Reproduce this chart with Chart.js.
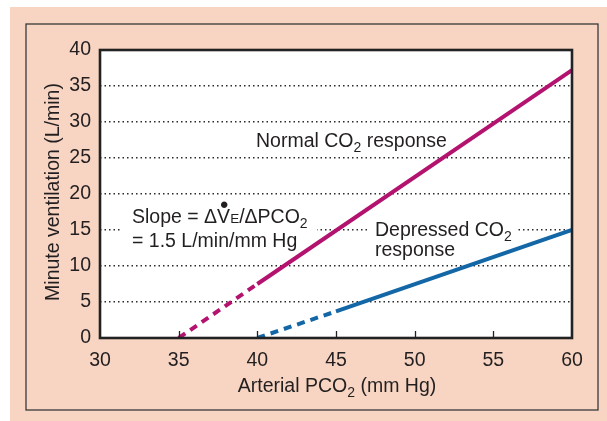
<!DOCTYPE html>
<html><head><meta charset="utf-8">
<script src="https://cdn.jsdelivr.net/npm/chart.js@4/dist/chart.umd.min.js"></script>
<style>html,body{margin:0;padding:0;background:#fff;}#wrap{width:607px;height:421px;position:relative;}</style>
</head><body><div id="wrap"><canvas id="c"></canvas></div>
<script>
const xTicks = [30, 35, 40, 45, 50, 55, 60];
const yTicks = [0, 5, 10, 15, 20, 25, 30, 35, 40];
const pco2Normal = [35, 40, 60];
const veNormal = [0, 7.5, 37.2];
const pco2Depressed = [40, 45, 60];
const veDepressed = [0, 3.7, 15];
const seriesNames = ['Normal CO2 response', 'Depressed CO2 response'];

const FAM = '"Liberation Sans", Arial, Helvetica, sans-serif';
const TEXT = '#231f20';
const PEACH = '#f7d5c2';
const MAGENTA = '#b3136f';
const BLUE = '#1367a6';

function drawParts(ctx, parts, x, y, align) {
  const widths = parts.map(p => { ctx.font = p[1] + 'px ' + FAM; return ctx.measureText(p[0]).width; });
  const total = widths.reduce((a, b) => a + b, 0);
  let cx = align === 'center' ? x - total / 2 : x;
  const starts = [];
  ctx.textAlign = 'left'; ctx.textBaseline = 'alphabetic';
  parts.forEach((p, i) => {
    ctx.font = p[1] + 'px ' + FAM;
    starts.push(cx);
    ctx.fillText(p[0], cx, y + (p[2] || 0));
    cx += widths[i];
  });
  return { starts, widths };
}

const decor = {
  id: 'decor',
  beforeDraw(chart) {
    const ctx = chart.ctx, a = chart.chartArea;
    ctx.save();
    ctx.fillStyle = '#fff'; ctx.fillRect(0, 0, 607, 421);
    ctx.fillStyle = PEACH; ctx.fillRect(10, 7, 597, 414);
    ctx.strokeStyle = '#3a3a3a'; ctx.lineWidth = 1.3; ctx.strokeRect(26, 24, 572, 386);
    ctx.fillStyle = '#fff'; ctx.fillRect(a.left, a.top, a.right - a.left, a.bottom - a.top);
    ctx.restore();
  },
  beforeDatasetsDraw(chart) {
    const ctx = chart.ctx;
    ctx.save();
    ctx.fillStyle = '#fff';
    ctx.fillRect(120, 200, 197, 52);
    ctx.fillRect(368, 215, 150, 47);
    ctx.fillStyle = TEXT;
    // Slope annotation
    const r = drawParts(ctx, [['Slope = \u0394', 19.5], ['V', 19.5], ['E', 13.5], ['/\u0394PCO', 19.5], ['2', 14, 5]], 132, 223, 'left');
    ctx.font = '24px ' + FAM; ctx.textAlign = 'center';
    ctx.fillText('\u2022', r.starts[1] + r.widths[1] / 2 + 0.5, 213);
    drawParts(ctx, [['= 1.5 L/min/mm Hg', 19.5]], 132, 247, 'left');
    // Normal
    drawParts(ctx, [['Normal CO', 19.5], ['2', 14, 5], [' response', 19.5]], 256, 147, 'left');
    // Depressed
    drawParts(ctx, [['Depressed CO', 19.5], ['2', 14, 5]], 375, 236, 'left');
    drawParts(ctx, [['response', 19.5]], 375, 256, 'left');
    ctx.restore();
  },
  afterDatasetsDraw(chart) {
    const ctx = chart.ctx, a = chart.chartArea, xs = chart.scales.x;
    ctx.save();
    // inward x ticks
    ctx.strokeStyle = '#222'; ctx.lineWidth = 1.3;
    xs.ticks.forEach(t => {
      if (t.value <= xTicks[0] || t.value >= xTicks[xTicks.length - 1]) return;
      const px = Math.round(xs.getPixelForValue(t.value)) + 0.5;
      ctx.beginPath(); ctx.moveTo(px, a.bottom); ctx.lineTo(px, a.bottom - 7); ctx.stroke();
    });
    // frame
    ctx.strokeStyle = '#222'; ctx.lineWidth = 2.6;
    ctx.strokeRect(a.left, a.top, a.right - a.left, a.bottom - a.top);
    // titles
    ctx.fillStyle = TEXT;
    drawParts(ctx, [['Arterial PCO', 19.5], ['2', 14, 5], [' (mm Hg)', 19.5]], (a.left + a.right) / 2 + 1, 392, 'center');
    ctx.translate(59, 192); ctx.rotate(-Math.PI / 2);
    drawParts(ctx, [['Minute ventilation (L/min)', 19.5]], 0, 0, 'center');
    ctx.restore();
  }
};

const toPts = (xsArr, ysArr) => xsArr.map((x, i) => ({ x, y: ysArr[i] }));
const dashFirst = ctx => ctx.p0DataIndex === 0 ? [8, 6] : undefined;

new Chart(document.getElementById('c'), {
  type: 'line',
  data: {
    datasets: [
      { label: seriesNames[0], data: toPts(pco2Normal, veNormal), borderColor: MAGENTA, borderWidth: 4, pointRadius: 0, tension: 0, borderCapStyle: 'butt', segment: { borderDash: dashFirst } },
      { label: seriesNames[1], data: toPts(pco2Depressed, veDepressed), borderColor: BLUE, borderWidth: 4, pointRadius: 0, tension: 0, borderCapStyle: 'butt', segment: { borderDash: dashFirst } }
    ]
  },
  options: {
    responsive: true, maintainAspectRatio: false, animation: false,
    layout: { padding: { top: 50, right: 35, bottom: 0, left: 0 } },
    plugins: { legend: { display: false }, tooltip: { enabled: false } },
    scales: {
      x: {
        type: 'linear', min: xTicks[0], max: xTicks[xTicks.length - 1],
        afterBuildTicks: s => { s.ticks = xTicks.map(v => ({ value: v })); },
        afterFit: s => { s.height = 83; },
        grid: { drawOnChartArea: false, drawTicks: false },
        border: { display: false },
        ticks: { color: TEXT, font: { family: FAM, size: 19.5 }, padding: 11, maxRotation: 0 }
      },
      y: {
        type: 'linear', min: yTicks[0], max: yTicks[yTicks.length - 1],
        afterBuildTicks: s => { s.ticks = yTicks.map(v => ({ value: v })); },
        afterFit: s => { s.width = 100; },
        grid: { drawTicks: false, lineWidth: 1.5, color: c => (c.tick && (c.tick.value === yTicks[0] || c.tick.value === yTicks[yTicks.length - 1])) ? 'rgba(0,0,0,0)' : '#2a2a2a' },
        border: { display: false, dash: [1.5, 3] },
        ticks: { color: TEXT, font: { family: FAM, size: 19.5 }, padding: 9 }
      }
    }
  },
  plugins: [decor]
});
</script>
</body></html>
